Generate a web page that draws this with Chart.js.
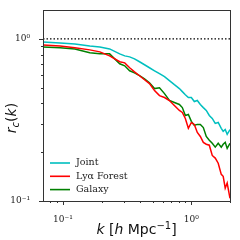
<!DOCTYPE html>
<html>
<head>
<meta charset="utf-8">
<script src="https://cdn.jsdelivr.net/npm/chart.js@4.4.1/dist/chart.umd.min.js"></script>
<style>
  html, body { margin: 0; padding: 0; background: #fff; }
  #c { display: block; }
</style>
</head>
<body>
<canvas id="c" width="240" height="240"></canvas>
<script>
// data
const kVals = [0.07, 0.095, 0.124, 0.162, 0.194, 0.231, 0.277, 0.303, 0.331, 0.361, 0.395, 0.432, 0.472,
  0.517, 0.565, 0.618, 0.675, 0.738, 0.807, 0.851, 0.898, 0.948, 1.0, 1.055, 1.113, 1.175, 1.24, 1.307,
  1.38, 1.455, 1.535, 1.619, 1.71, 1.77, 1.836, 1.901, 2.0];
const joint = [0.958, 0.945, 0.932, 0.906, 0.893, 0.868, 0.809, 0.786, 0.775, 0.754, 0.723, 0.693, 0.664,
  0.636, 0.610, 0.585, 0.553, 0.522, 0.494, 0.473, 0.453, 0.435, 0.435, 0.411, 0.417, 0.394, 0.377, 0.362,
  0.337, 0.323, 0.301, 0.305, 0.281, 0.269, 0.276, 0.258, 0.276];
const lyaForest = [0.919, 0.906, 0.881, 0.856, 0.832, 0.786, 0.723, 0.712, 0.664, 0.627, 0.593, 0.560, 0.530,
  0.480, 0.447, 0.435, 0.417, 0.388, 0.362, 0.352, 0.323, 0.281, 0.305, 0.297, 0.265, 0.250, 0.230, 0.224,
  0.221, 0.191, 0.184, 0.171, 0.146, 0.142, 0.120, 0.129, 0.104];
const galaxy = [0.893, 0.881, 0.868, 0.821, 0.809, 0.809, 0.703, 0.683, 0.636, 0.618, 0.593, 0.568, 0.537,
  0.494, 0.500, 0.460, 0.417, 0.405, 0.394, 0.377, 0.337, 0.342, 0.310, 0.293, 0.297, 0.297, 0.284, 0.250,
  0.237, 0.227, 0.215, 0.227, 0.215, 0.224, 0.230, 0.211, 0.227];
const refLevel = 1.0;

const xRange = [0.07, 2];
const yRange = [0.1, 1.5];
const xTicks = [0.08, 0.09, 0.1, 0.2, 0.3, 0.4, 0.5, 0.6, 0.7, 0.8, 0.9, 1, 2];
const yTicks = [0.1, 0.2, 0.3, 0.4, 0.5, 0.6, 0.7, 0.8, 0.9, 1];
const majorTicks = [0.1, 1];
const majorLabels = { 0.1: '10\u207B\u00B9', 1: '10\u2070' };

const seriesNames = ['Joint', 'Ly\u03B1 Forest', 'Galaxy'];
const seriesColors = ['#00bfbf', '#ff0000', '#008000'];

const toPts = arr => arr.map((v, i) => ({ x: kVals[i], y: v }));
const serif = '"DejaVu Serif", serif';
const sans = '"DejaVu Sans", sans-serif';

// ticks, frame, axis titles and legend
const decorPlugin = {
  id: 'decor',
  afterDraw(chart) {
    const { ctx, chartArea: a, scales: { x, y } } = chart;
    ctx.save();
    ctx.strokeStyle = '#333';
    ctx.lineWidth = 1;
    ctx.beginPath();
    xTicks.forEach(v => {
      const px = Math.round(x.getPixelForValue(v)) + 0.5;
      const len = majorTicks.includes(v) ? 4 : 2;
      ctx.moveTo(px, a.bottom); ctx.lineTo(px, a.bottom + len);
    });
    yTicks.forEach(v => {
      const py = Math.round(y.getPixelForValue(v)) + 0.5;
      const len = majorTicks.includes(v) ? 4 : 2;
      ctx.moveTo(a.left, py); ctx.lineTo(a.left - len, py);
    });
    ctx.stroke();
    ctx.strokeRect(Math.round(a.left) + 0.5, Math.round(a.top) + 0.5,
      Math.round(a.right - a.left), Math.round(a.bottom - a.top));

    // legend
    ctx.font = '9.5px ' + serif;
    ctx.textBaseline = 'middle';
    ctx.textAlign = 'left';
    seriesNames.forEach((name, i) => {
      const ly = 163 + i * 13.3;
      ctx.strokeStyle = seriesColors[i];
      ctx.lineWidth = 1.6;
      ctx.beginPath(); ctx.moveTo(50, ly); ctx.lineTo(70, ly); ctx.stroke();
      ctx.fillStyle = '#222';
      ctx.fillText(name, 76, ly);
    });

    // y title: r_c(k)
    ctx.fillStyle = '#111';
    ctx.translate(11, 118);
    ctx.rotate(-Math.PI / 2);
    ctx.textBaseline = 'alphabetic';
    const parts = [
      { t: 'r', f: 'italic 14px ' + sans, dy: 0 },
      { t: 'c', f: 'italic 10px ' + sans, dy: 2.5 },
      { t: '(', f: '14px ' + sans, dy: 0 },
      { t: 'k', f: 'italic 14px ' + sans, dy: 0 },
      { t: ')', f: '14px ' + sans, dy: 0 }
    ];
    let w = 0;
    parts.forEach(p => { ctx.font = p.f; w += ctx.measureText(p.t).width; });
    let cx = -w / 2;
    parts.forEach(p => { ctx.font = p.f; ctx.fillText(p.t, cx, 5 + p.dy); cx += ctx.measureText(p.t).width; });
    ctx.setTransform(1, 0, 0, 1, 0, 0);

    // x title: k [h Mpc^-1]
    const xp = [
      { t: 'k', f: 'italic 14px ' + sans, dy: 0 },
      { t: ' [', f: '14px ' + sans, dy: 0 },
      { t: 'h', f: 'italic 14px ' + sans, dy: 0 },
      { t: ' Mpc', f: '14px ' + sans, dy: 0 },
      { t: '\u22121', f: '10px ' + sans, dy: -5 },
      { t: ']', f: '14px ' + sans, dy: 0 }
    ];
    w = 0;
    xp.forEach(p => { ctx.font = p.f; w += ctx.measureText(p.t).width; });
    cx = (a.left + a.right) / 2 - w / 2;
    xp.forEach(p => { ctx.font = p.f; ctx.fillText(p.t, cx, 234 + p.dy); cx += ctx.measureText(p.t).width; });
    ctx.restore();
  }
};

const tickLabel = v => majorLabels[v] || '';

new Chart(document.getElementById('c'), {
  type: 'line',
  data: {
    datasets: [
      { label: seriesNames[0], data: toPts(joint), borderColor: seriesColors[0] },
      { label: seriesNames[1], data: toPts(lyaForest), borderColor: seriesColors[1] },
      { label: seriesNames[2], data: toPts(galaxy), borderColor: seriesColors[2] },
      { label: 'ref', data: [{ x: xRange[0], y: refLevel }, { x: xRange[1], y: refLevel }],
        borderColor: '#000', borderDash: [1.5, 2], borderWidth: 1.3 }
    ]
  },
  options: {
    responsive: false,
    animation: false,
    devicePixelRatio: 1,
    layout: { padding: { top: 9, right: 10, left: 0, bottom: 0 } },
    elements: {
      point: { radius: 0 },
      line: { borderWidth: 1.5, tension: 0, fill: false }
    },
    plugins: { legend: { display: false }, tooltip: { enabled: false } },
    scales: {
      x: {
        type: 'logarithmic',
        min: xRange[0], max: xRange[1],
        afterBuildTicks: s => { s.ticks = xTicks.map(v => ({ value: v, major: majorTicks.includes(v) })); },
        afterFit: s => { s.height = 39; },
        grid: { display: false },
        border: { display: false },
        ticks: { autoSkip: false, maxRotation: 0, padding: 5, color: '#222',
          font: { family: serif, size: 9 }, callback: tickLabel }
      },
      y: {
        type: 'logarithmic',
        min: yRange[0], max: yRange[1],
        afterBuildTicks: s => { s.ticks = yTicks.map(v => ({ value: v, major: majorTicks.includes(v) })); },
        afterFit: s => { s.width = 43; },
        grid: { display: false },
        border: { display: false },
        ticks: { autoSkip: false, padding: 5, color: '#222',
          font: { family: serif, size: 9 }, callback: tickLabel }
      }
    }
  },
  plugins: [decorPlugin]
});
</script>
</body>
</html>
